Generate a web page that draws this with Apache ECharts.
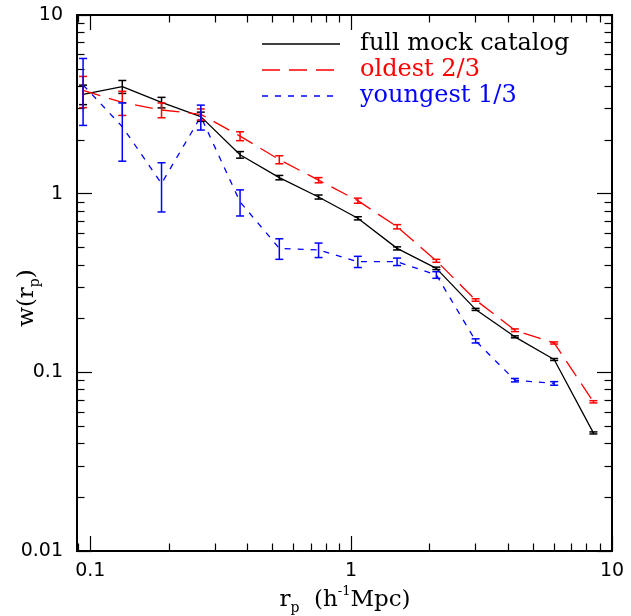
<!DOCTYPE html>
<html>
<head>
<meta charset="utf-8">
<script src="https://cdn.jsdelivr.net/npm/echarts@6/dist/echarts.min.js"></script>
<style>
  html, body { margin: 0; padding: 0; background: #fff; }
  #chart { width: 631px; height: 616px; }
</style>
</head>
<body>
<div id="chart"></div>
<script>
// projected separation bins (h^-1 Mpc)
const RP = [0.0938, 0.1326, 0.1875, 0.2652, 0.375, 0.5303, 0.75, 1.0607, 1.5, 2.1213, 3.0, 4.2426, 6.0, 8.4853];

// w(rp) for each sample, with 1-sigma errors
const FULL      = [3.60, 3.97, 3.24, 2.70, 1.65, 1.23, 0.958, 0.728, 0.494, 0.382, 0.225, 0.158, 0.118, 0.0458];
const FULL_ERR  = [0.45, 0.33, 0.22, 0.16, 0.07, 0.035, 0.025, 0.015, 0.010, 0.006, 0.003, 0.002, 0.0015, 0.0006];
const OLD       = [3.78, 3.24, 2.94, 2.78, 2.10, 1.55, 1.19, 0.914, 0.653, 0.421, 0.254, 0.172, 0.146, 0.0684];
const OLD_ERR   = [0.75, 0.50, 0.28, 0.20, 0.12, 0.08, 0.040, 0.030, 0.018, 0.008, 0.004, 0.003, 0.002, 0.001];
const YOUNG     = [4.06, 2.37, 1.14, 2.70, 0.90, 0.494, 0.484, 0.416, 0.416, 0.351, 0.150, 0.0904, 0.0867];
const YOUNG_ERR = [1.65, 0.85, 0.35, 0.43, 0.15, 0.065, 0.045, 0.030, 0.020, 0.015, 0.004, 0.002, 0.002];

// axis ticks
const X_RANGE = [0.0889, 10];
const Y_RANGE = [0.01, 10];
const X_MAJOR = [0.1, 1, 10];
const X_MINOR = [0.09, 0.2, 0.3, 0.4, 0.5, 0.6, 0.7, 0.8, 0.9, 2, 3, 4, 5, 6, 7, 8, 9];
const Y_MAJOR = [0.01, 0.1, 1, 10];
const Y_MINOR = [0.02, 0.03, 0.04, 0.05, 0.06, 0.07, 0.08, 0.09,
                 0.2, 0.3, 0.4, 0.5, 0.6, 0.7, 0.8, 0.9, 2, 3, 4, 5, 6, 7, 8, 9];

const lg = Math.log10;
const fmt = (v) => String(parseFloat(Math.pow(10, v).toPrecision(2)));

const SERIF = "DejaVu Serif";
const SANS = "DejaVu Sans";

function axisCfg(kind, pos, ticks, len, labels) {
  const range = kind === "x" ? X_RANGE : Y_RANGE;
  return {
    type: "value", position: pos, min: lg(range[0]), max: lg(range[1]),
    axisLine: { show: true, onZero: false, lineStyle: { color: "#000", width: 2 } },
    axisTick: { show: true, inside: true, length: len, customValues: ticks.map(lg),
                lineStyle: { color: "#000", width: 1.2 } },
    axisLabel: { show: labels, customValues: ticks.map(lg), formatter: fmt,
                 margin: kind === "x" ? 11 : 14, color: "#000", fontFamily: SANS, fontSize: 19 },
    splitLine: { show: false }
  };
}

function lineSeries(vals, color, dash) {
  return {
    type: "line", symbol: "none", silent: true, z: 2,
    data: vals.map((v, i) => [lg(RP[i]), lg(v)]),
    lineStyle: { color, width: 1.3, type: dash }
  };
}

function errSeries(vals, errs, color) {
  return {
    type: "custom", silent: true, z: 3,
    encode: { x: 0, y: [1, 2] },
    data: vals.map((v, i) => [lg(RP[i]), lg(v - errs[i]), lg(v + errs[i])]),
    renderItem: (params, api) => {
      const lo = api.coord([api.value(0), api.value(1)]);
      const hi = api.coord([api.value(0), api.value(2)]);
      const w = 4;
      const st = { stroke: color, lineWidth: 1.5 };
      return { type: "group", children: [
        { type: "line", shape: { x1: lo[0], y1: lo[1], x2: hi[0], y2: hi[1] }, style: st },
        { type: "line", shape: { x1: lo[0] - w, y1: lo[1], x2: lo[0] + w, y2: lo[1] }, style: st },
        { type: "line", shape: { x1: hi[0] - w, y1: hi[1], x2: hi[0] + w, y2: hi[1] }, style: st }
      ]};
    }
  };
}

const titleRich = {
  m: { fontSize: 23, fontFamily: SERIF, lineHeight: 30, fill: "#000" },
  s: { fontSize: 14, fontFamily: SERIF, lineHeight: 12, verticalAlign: "bottom", fill: "#000" },
  u: { fontSize: 13, fontFamily: SERIF, lineHeight: 12, verticalAlign: "top", fill: "#000" }
};

const LEGEND = [
  { name: "full mock catalog", color: "#000", dash: null, y: 44 },
  { name: "oldest 2/3", color: "#ff0000", dash: [18, 9], y: 70 },
  { name: "youngest 1/3", color: "#0000ff", dash: [6, 7], y: 96 }
];

const legendGraphics = [];
LEGEND.forEach((it) => {
  legendGraphics.push({ type: "line", shape: { x1: 262, y1: it.y, x2: 340, y2: it.y },
    style: { stroke: it.color, lineWidth: 1.3, lineDash: it.dash } });
  legendGraphics.push({ type: "text", x: 360, y: it.y,
    style: { text: it.name, fill: it.color, fontSize: 24, fontFamily: SERIF, verticalAlign: "middle" } });
});

const chart = echarts.init(document.getElementById("chart"), null, { renderer: "canvas" });
chart.setOption({
  animation: false,
  backgroundColor: "#fff",
  grid: { left: 77, right: 19, top: 15, bottom: 65, containLabel: false },
  xAxis: [
    axisCfg("x", "bottom", X_MAJOR, 15, true),
    axisCfg("x", "bottom", X_MINOR, 7.5, false),
    axisCfg("x", "top", X_MAJOR, 15, false),
    axisCfg("x", "top", X_MINOR, 7.5, false)
  ],
  yAxis: [
    axisCfg("y", "left", Y_MAJOR, 15, true),
    axisCfg("y", "left", Y_MINOR, 7.5, false),
    axisCfg("y", "right", Y_MAJOR, 15, false),
    axisCfg("y", "right", Y_MINOR, 7.5, false)
  ],
  series: [
    lineSeries(FULL, "#000", "solid"),
    lineSeries(OLD, "#ff0000", [18, 9]),
    lineSeries(YOUNG, "#0000ff", [6, 7]),
    errSeries(FULL, FULL_ERR, "#000"),
    errSeries(OLD, OLD_ERR, "#ff0000"),
    errSeries(YOUNG, YOUNG_ERR, "#0000ff")
  ],
  graphic: legendGraphics.concat([
    { type: "text", x: 345, y: 600,
      style: { text: "{m|r}{s|p}{m|  (h}{u|-1}{m|Mpc)}", rich: titleRich, align: "center", verticalAlign: "middle" } },
    { type: "text", x: 27, y: 298, rotation: Math.PI / 2,
      style: { text: "{m|w(r}{s|p}{m|)}", rich: titleRich, align: "center", verticalAlign: "middle" } }
  ])
});
</script>
</body>
</html>
